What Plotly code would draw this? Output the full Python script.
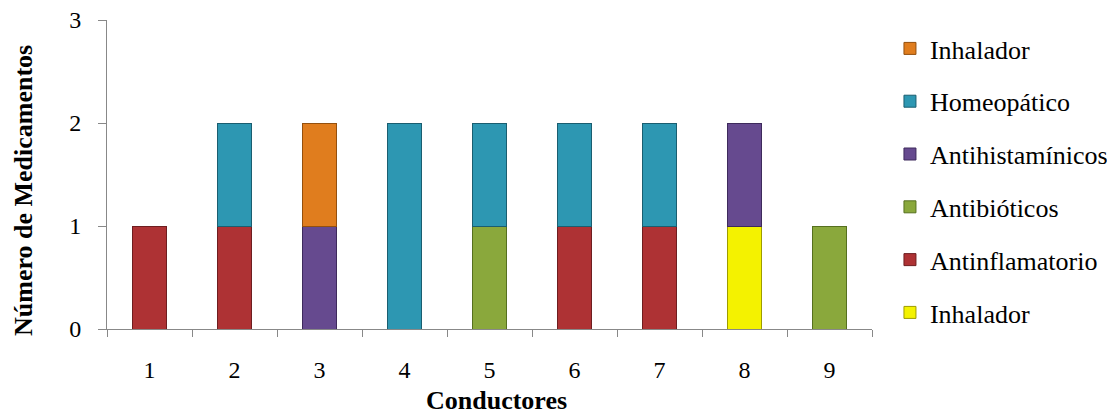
import plotly.graph_objects as go

categories = ["1", "2", "3", "4", "5", "6", "7", "8", "9"]
series_names = ["Inhalador", "Antinflamatorio", "Antibióticos", "Antihistamínicos", "Homeopático", "Inhalador"]
inhalador_amarillo = [0, 0, 0, 0, 0, 0, 0, 1, 0]
antinflamatorio = [1, 1, 0, 0, 0, 1, 1, 0, 0]
antibioticos = [0, 0, 0, 0, 1, 0, 0, 0, 1]
antihistaminicos = [0, 0, 1, 0, 0, 0, 0, 1, 0]
homeopatico = [0, 1, 0, 2, 1, 1, 1, 0, 0]
inhalador_naranja = [0, 0, 1, 0, 0, 0, 0, 0, 0]
x_title = "Conductores"
y_title = "Número de Medicamentos"

series_values = [inhalador_amarillo, antinflamatorio, antibioticos, antihistaminicos, homeopatico, inhalador_naranja]
colors = ["#F4F200", "#AE3234", "#8AA83C", "#664A8F", "#2D97B2", "#E07D1E"]
line_colors = ["#9E9C00", "#6E1E20", "#56701F", "#3E2A5C", "#1A5E70", "#94500E"]

fig = go.Figure()
n = len(series_names)
for i, (name, vals) in enumerate(zip(series_names, series_values)):
    fig.add_trace(go.Bar(
        x=categories, y=[v if v else None for v in vals], name=name,
        marker=dict(color=colors[i], line=dict(color=line_colors[i], width=1)),
        legendgroup=f"g{i}", legendrank=n - i,
    ))

font_family = "Liberation Serif, Times New Roman, serif"
fig.update_layout(
    barmode="stack",
    bargap=0.6,
    width=1115, height=415,
    margin=dict(l=99, r=251, t=12, b=94),
    plot_bgcolor="white", paper_bgcolor="white",
    font=dict(family=font_family, size=24, color="black"),
    showlegend=True,
    legend=dict(
        traceorder="grouped", tracegroupgap=16,
        xref="container", yref="container",
        x=0.791, xanchor="left", y=0.959, yanchor="top",
        font=dict(size=26, family=font_family),
        itemwidth=30, maxheight=600,
    ),
    xaxis=dict(
        type="category", showline=True, linecolor="#888888", linewidth=1,
        ticks="outside", tickson="boundaries", ticklen=7, tickcolor="#888888",
        showgrid=False, automargin=False, ticklabelstandoff=19,
    ),
    yaxis=dict(
        range=[0, 3], tickvals=[0, 1, 2, 3], showline=True, linecolor="#888888", linewidth=1,
        ticks="outside", ticklen=8, tickcolor="#888888", showgrid=False, zeroline=False,
        automargin=False, ticklabelstandoff=12, ticklabeloverflow="allow",
    ),
    annotations=[
        dict(text=f"<b>{x_title}</b>", xref="paper", yref="paper", x=0.509, y=-0.233,
             xanchor="center", yanchor="middle", showarrow=False, font=dict(size=26)),
        dict(text=f"<b>{y_title}</b>", xref="paper", yref="paper", x=-0.1098, y=0.4466,
             xanchor="center", yanchor="middle", showarrow=False, textangle=-90,
             font=dict(size=26)),
    ],
)
fig.write_html("out.html")
